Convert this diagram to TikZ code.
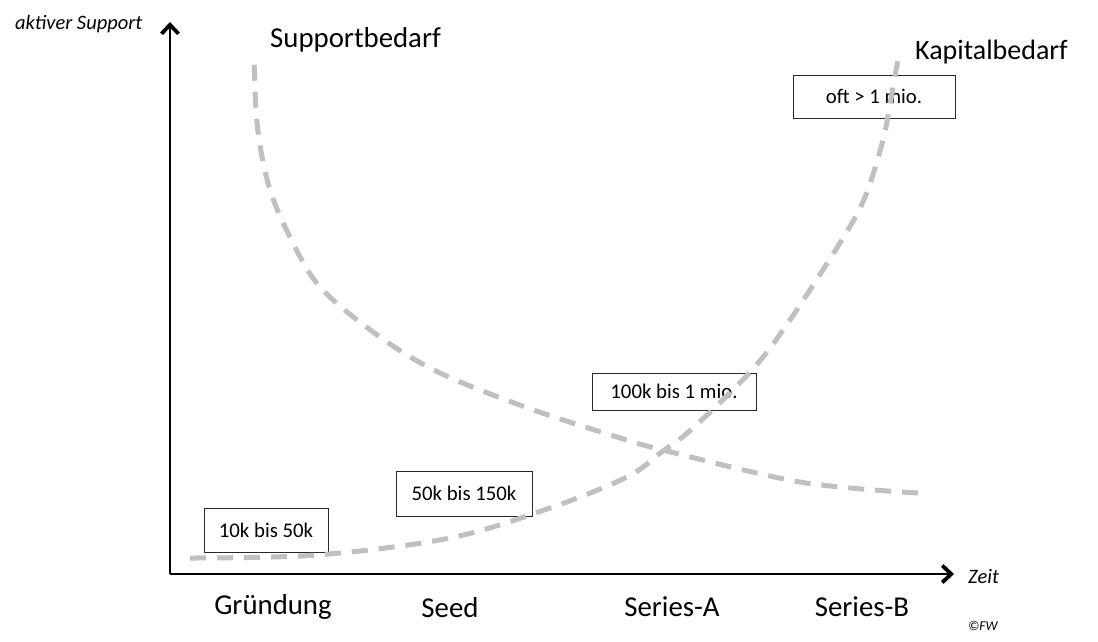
\documentclass[tikz,border=0pt]{standalone}
\usepackage{fontspec}
\setmainfont{Carlito}
\usetikzlibrary{arrows.meta}
\definecolor{curvegray}{RGB}{192,192,192}
\definecolor{boxline}{RGB}{40,40,40}
\begin{document}
\begin{tikzpicture}[x=1pt,y=-1pt,
  axis/.style={line width=2.6pt, -{Straight Barb[length=9pt,width=17pt,line width=3.8pt]}},
  valbox/.style={draw=boxline, line width=1pt, inner sep=0pt, font=\fontsize{20.8}{24}\selectfont},
  biglbl/.style={inner sep=0pt, anchor=base west, font=\fontsize{28.8}{34}\selectfont},
  itlbl/.style={inner sep=0pt, anchor=base west, font=\fontsize{20.5}{24}\selectfont\itshape},
  curve/.style={draw=curvegray, line width=5pt, dash pattern=on 16pt off 11pt}
]
\useasboundingbox (0,0) rectangle (1098,641);
\fill[white] (0,0) rectangle (1098,641);

% axes
\coordinate (O) at (170,574);
\coordinate (ytop) at (170,22);
\coordinate (xend) at (954,574);
\draw[axis] (O) -- (ytop);
\draw[axis] (O) -- (xend);

% axis labels
\node[itlbl] (ylab) at (15,29) {aktiver Support};
\node[itlbl] (xlab) at (968,583) {Zeit};
\node[inner sep=0pt, anchor=base west, font=\fontsize{13.5}{16}\selectfont\itshape] (copy) at (968,630) {©FW};

% curve labels
\node[biglbl] (supp) at (270,47) {Supportbedarf};
\node[biglbl, font=\fontsize{28}{34}\selectfont] (kap) at (915,59) {Kapitalbedarf};

% phase labels
\node[biglbl, anchor=base] (p1) at (273,614) {Gründung};
\node[biglbl, anchor=base] (p2) at (450,617) {Seed};
\node[biglbl, anchor=base] (p3) at (672,616) {Series-A};
\node[biglbl, anchor=base] (p4) at (862,616) {Series-B};

% value boxes
\node[valbox, minimum width=124pt, minimum height=44pt] (b1) at (266,530) {10k bis 50k};
\node[valbox, minimum width=136pt, minimum height=45pt] (b2) at (464,493.5) {50k bis 150k};
\node[valbox, minimum width=164pt, minimum height=37pt] (b3) at (674,391.5) {100k bis 1 mio.};
\node[valbox, minimum width=162pt, minimum height=43pt] (b4) at (874,96.5) {oft > 1 mio.};

% curves
\draw[curve] plot[smooth, tension=0.55] coordinates {(918,493) (800,482) (663,450) (617,437) (528,408) (440,373) (380,337) (320,287) (288,233) (268,183) (257,123) (254,54)};
\draw[curve] plot[smooth, tension=0.55] coordinates {(190,558) (317,555) (450,538) (550,508) (627,477) (663,451) (693,428) (752,370) (790,320) (843,238) (865,197) (883,140) (893,87) (899,54)};
\end{tikzpicture}
\end{document}
